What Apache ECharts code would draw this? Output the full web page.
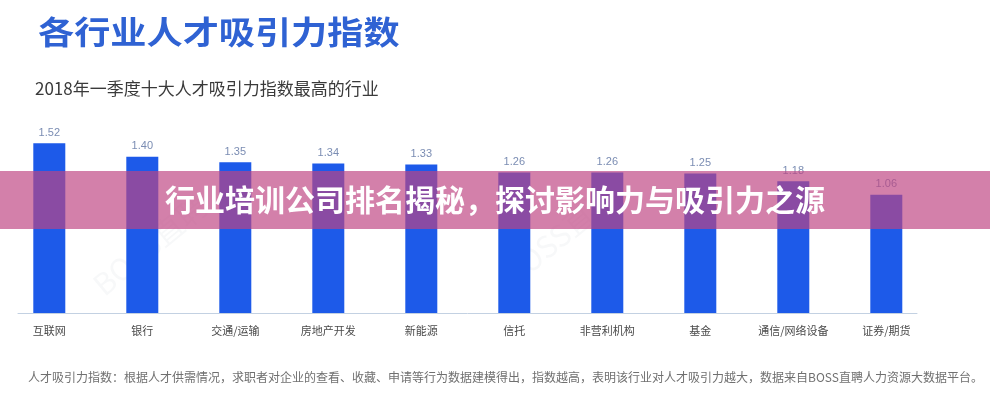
<!DOCTYPE html>
<html>
<head>
<meta charset="utf-8">
<script src="https://cdn.jsdelivr.net/npm/echarts@6/dist/echarts.min.js"></script>
<style>
html,body{margin:0;padding:0;background:#fff;}
#chart{width:990px;height:400px;}
</style>
</head>
<body>
<div id="chart"></div>
<script>
const categories = ['互联网','银行','交通/运输','房地产开发','新能源','信托','非营利机构','基金','通信/网络设备','证券/期货'];
const values = [1.52, 1.40, 1.35, 1.34, 1.33, 1.26, 1.26, 1.25, 1.18, 1.06];
const titleText = '各行业人才吸引力指数';
const subtitleText = '2018年一季度十大人才吸引力指数最高的行业';
const footnoteText = '人才吸引力指数：根据人才供需情况，求职者对企业的查看、收藏、申请等行为数据建模得出，指数越高，表明该行业对人才吸引力越大，数据来自BOSS直聘人力资源大数据平台。';
const bannerText = '行业培训公司排名揭秘，探讨影响力与吸引力之源';
const watermarkText = 'BOSS直聘';

const CJK = '"Noto Sans CJK SC", "Noto Sans", sans-serif';
const chart = echarts.init(document.getElementById('chart'), null, {renderer: 'canvas'});
chart.setOption({
  backgroundColor: '#ffffff',
  animation: false,
  title: [
    {text: subtitleText, left: 35, top: 80, padding: 0,
     textStyle: {fontFamily: CJK, fontSize: 17, fontWeight: 'normal', color: '#3a3a3a'}},
    {text: footnoteText, left: 28, top: 371, padding: 0,
     textStyle: {fontFamily: CJK, fontSize: 12, fontWeight: 'normal', color: '#707070'}}
  ],
  grid: [
    {left: 2.8, right: 57.2, top: 89.8, bottom: 87, containLabel: false},
    {left: 18, right: 73, top: 89.8, bottom: 87, containLabel: false}
  ],
  xAxis: [
    {type: 'category', data: categories, gridIndex: 0, offset: 3,
     axisLine: {show: false}, axisTick: {show: false},
     axisLabel: {margin: 9, fontFamily: CJK, fontSize: 11, color: '#4a4a4a', interval: 0}},
    {type: 'value', gridIndex: 1, min: 0, max: 1, offset: 3,
     axisLine: {show: true, lineStyle: {color: '#c3d1e2', width: 1}},
     axisTick: {show: false}, axisLabel: {show: false}, splitLine: {show: false}}
  ],
  yAxis: [
    {type: 'value', gridIndex: 0, min: 0, max: 2, show: false, splitLine: {show: false}},
    {type: 'value', gridIndex: 1, min: 0, max: 1, show: false, splitLine: {show: false}}
  ],
  series: [{
    type: 'bar', xAxisIndex: 0, yAxisIndex: 0,
    data: values, barWidth: 32,
    itemStyle: {color: '#1d5ae9'},
    label: {show: true, position: 'top', distance: 5,
      formatter: p => p.value.toFixed(2),
      fontFamily: '"Liberation Sans", Arial, sans-serif', fontSize: 11, color: '#7b8db3'}
  }],
  graphic: [
    {type: 'text', x: 38, y: 32, scaleX: 1.13, scaleY: 1, originX: 0, originY: 0, z: 5, silent: true,
     style: {text: titleText, fontFamily: CJK, fontSize: 32, fontWeight: 'bold', fill: '#2f62d3',
       textAlign: 'left', textVerticalAlign: 'middle'}},
    {type: 'text', x: 150, y: 245, rotation: Math.PI * 0.22, z: 1, silent: true,
     style: {text: watermarkText, fontFamily: CJK, fontSize: 30, fill: 'rgba(120,130,150,0.06)', textAlign: 'center', textVerticalAlign: 'middle'}},
    {type: 'text', x: 560, y: 235, rotation: Math.PI * 0.22, z: 1, silent: true,
     style: {text: watermarkText, fontFamily: CJK, fontSize: 30, fill: 'rgba(120,130,150,0.06)', textAlign: 'center', textVerticalAlign: 'middle'}},
    {type: 'rect', z: 100, silent: true,
     shape: {x: 0, y: 171, width: 990, height: 58},
     style: {fill: 'rgba(190,68,130,0.68)'}},
    {type: 'text', z: 101, x: 495, y: 200, silent: true,
     style: {text: bannerText, fontFamily: CJK, fontSize: 30, fontWeight: 'bold', fill: '#ffffff',
       textAlign: 'center', textVerticalAlign: 'middle',
       shadowColor: 'rgba(80,20,60,0.35)', shadowBlur: 3, shadowOffsetX: 1, shadowOffsetY: 1}}
  ]
});
</script>
</body>
</html>
